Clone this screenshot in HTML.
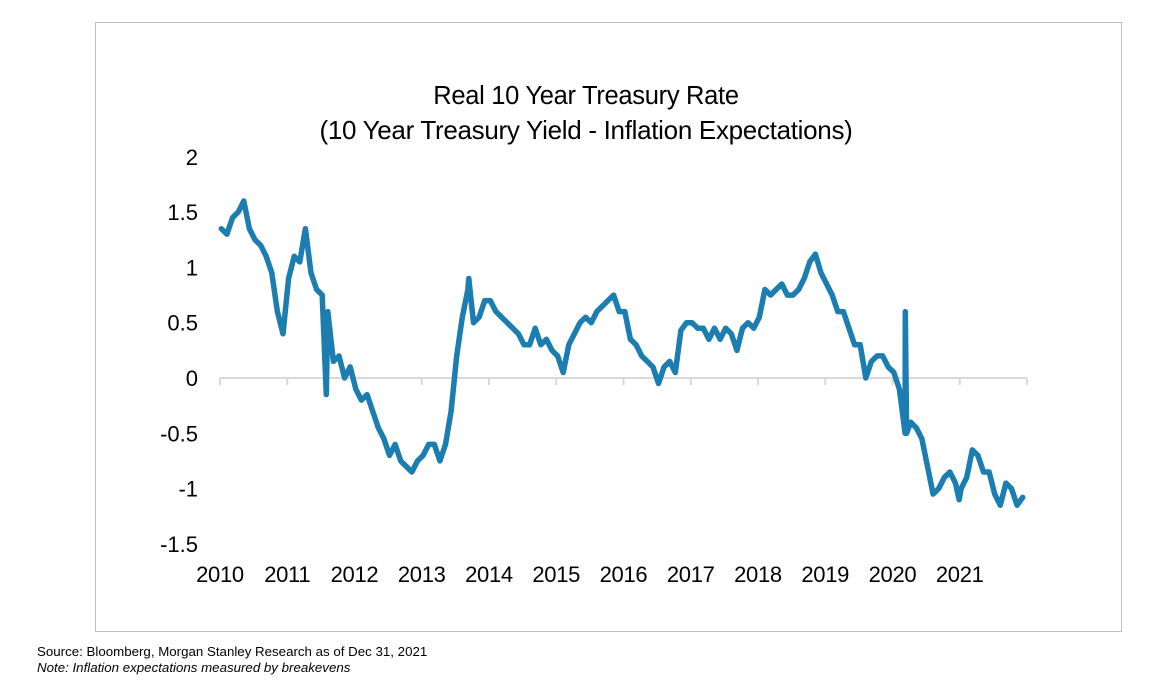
<!DOCTYPE html>
<html><head><meta charset="utf-8"><style>
body{margin:0;background:#fff;width:1173px;height:683px;overflow:hidden;font-family:"Liberation Sans",sans-serif}
.note{position:absolute;left:37px;font-size:13.3px;color:#000}
</style></head><body>
<div style="position:absolute;left:95px;top:22px;width:1025px;height:608px;border:1px solid #bfbfbf"></div>
<svg id="c" width="1173" height="683" style="position:absolute;left:0;top:0">
<text x="586" y="104" text-anchor="middle" font-size="25.5" font-family="Liberation Sans, sans-serif" letter-spacing="-0.3">Real 10 Year Treasury Rate</text>
<text x="586" y="139" text-anchor="middle" font-size="26" font-family="Liberation Sans, sans-serif" letter-spacing="-0.3">(10 Year Treasury Yield - Inflation Expectations)</text>
</svg>
<div class="note" style="top:644px">Source: Bloomberg, Morgan Stanley Research as of Dec 31, 2021</div>
<div class="note" style="top:660px;font-style:italic">Note: Inflation expectations measured by breakevens</div>
<script>
const yTicks=[2,1.5,1,0.5,0,-0.5,-1,-1.5];
const yearLabels=[2010,2011,2012,2013,2014,2015,2016,2017,2018,2019,2020,2021];
const monthlyValues=[
1.35,1.3,1.45,1.5,1.6,1.35,1.25,1.2,1.1,0.95,0.6,0.4,
0.9,1.1,1.05,1.35,0.95,0.8,0.75,0.6,0.15,0.2,0.0,0.1,
-0.1,-0.2,-0.15,-0.3,-0.45,-0.55,-0.7,-0.6,-0.75,-0.8,-0.85,-0.75,
-0.7,-0.6,-0.6,-0.75,-0.6,-0.3,0.2,0.55,0.8,0.5,0.55,0.7,
0.7,0.6,0.55,0.5,0.45,0.4,0.3,0.3,0.45,0.3,0.35,0.25,
0.2,0.05,0.3,0.4,0.5,0.55,0.5,0.6,0.65,0.7,0.75,0.6,
0.6,0.35,0.3,0.2,0.15,0.1,-0.05,0.1,0.15,0.05,0.43,0.5,
0.5,0.45,0.45,0.35,0.45,0.35,0.45,0.4,0.25,0.45,0.5,0.45,
0.55,0.8,0.75,0.8,0.85,0.75,0.75,0.8,0.9,1.05,1.12,0.95,
0.85,0.75,0.6,0.6,0.45,0.3,0.3,0.0,0.15,0.2,0.2,0.1,
0.05,-0.1,-0.5,-0.4,-0.45,-0.55,-0.8,-1.05,-1.0,-0.9,-0.85,-0.95,
-1.0,-0.9,-0.65,-0.7,-0.85,-0.85,-1.05,-1.15,-0.95,-1.0,-1.15,-1.08];
const spikeDates=[2011.58,2013.70,2020.19,2020.21,2020.99];
const spikeValues=[-0.15,0.9,0.6,-0.5,-1.1];
const startYear=2010, endYear=2022;
const X=t=>220+(t-startYear)*(1027-220)/(endYear-startYear);
const Y=v=>378-v*110.6;
const svg=document.getElementById('c'),NS='http://www.w3.org/2000/svg';
function mk(tag,attrs){const e=document.createElementNS(NS,tag);for(const k in attrs)e.setAttribute(k,attrs[k]);svg.appendChild(e);return e;}
const ax=mk('line',{x1:220,x2:1027,y1:Y(0),y2:Y(0),stroke:'#d9d9d9','stroke-width':2});


for(let i=0;i<=yearLabels.length;i++){
 const tk=mk('line',{x1:X(startYear+i),x2:X(startYear+i),y1:Y(0),y2:Y(0)+7,stroke:'#d9d9d9','stroke-width':2});
 
 
}
yearLabels.forEach(y=>{
 const t=mk('text',{x:X(y),y:582,'text-anchor':'middle','font-size':22,'font-family':'Liberation Sans, sans-serif','letter-spacing':'-0.3'});
 t.textContent=y;
 
 
});
yTicks.forEach(v=>{
 const t=mk('text',{x:198,y:Y(v)+8,'text-anchor':'end','font-size':22,'font-family':'Liberation Sans, sans-serif'});
 t.textContent=v;
 
 
});
let pts=monthlyValues.map((v,i)=>[startYear+i/12+0.02,v]);
spikeDates.forEach((d,i)=>pts.push([d,spikeValues[i]]));
pts.sort((a,b)=>a[0]-b[0]);
const line=mk('polyline',{points:pts.map(p=>X(p[0]).toFixed(1)+','+Y(p[1]).toFixed(1)).join(' '),fill:'none',stroke:'#1b7db0','stroke-width':5.5,'stroke-linejoin':'round','stroke-linecap':'round'});


</script>
</body></html>
